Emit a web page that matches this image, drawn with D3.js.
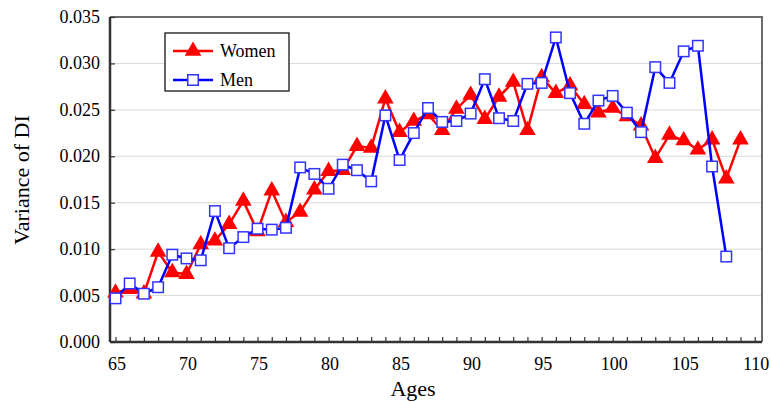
<!DOCTYPE html>
<html>
<head>
<meta charset="utf-8">
<script src="https://cdn.jsdelivr.net/npm/d3@7/dist/d3.min.js"></script>
<style>
  body { margin: 0; background: #fff; }
</style>
</head>
<body>
<div id="chart"></div>
<script>
// ages on the x axis
var agesWomen = d3.range(65, 110);  // 65..109
var agesMen = d3.range(65, 109);    // 65..108

// variance of DI
var women = [0.0053, 0.0057, 0.0052, 0.0097, 0.0075, 0.0073, 0.0105, 0.0109, 0.0127, 0.0152,
  0.0119, 0.0163, 0.0129, 0.0140, 0.0164, 0.0184, 0.0185, 0.0211, 0.0209, 0.0262,
  0.0226, 0.0238, 0.0245, 0.0228, 0.0251, 0.0266, 0.0240, 0.0264, 0.0280, 0.0228,
  0.0285, 0.0268, 0.0276, 0.0256, 0.0247, 0.0252, 0.0243, 0.0233, 0.0198, 0.0223,
  0.0217, 0.0207, 0.0218, 0.0176, 0.0218];
var men = [0.0047, 0.0063, 0.0052, 0.0059, 0.0094, 0.0090, 0.0088, 0.0141, 0.0101, 0.0113,
  0.0122, 0.0121, 0.0123, 0.0188, 0.0181, 0.0165, 0.0191, 0.0185, 0.0173, 0.0244,
  0.0196, 0.0225, 0.0252, 0.0237, 0.0238, 0.0246, 0.0283, 0.0241, 0.0238, 0.0278,
  0.0279, 0.0328, 0.0268, 0.0235, 0.0260, 0.0265, 0.0247, 0.0226, 0.0296, 0.0279,
  0.0313, 0.0319, 0.0189, 0.0092];

var xTicks = [65, 70, 75, 80, 85, 90, 95, 100, 105, 110];
var yTicks = [0, 0.005, 0.01, 0.015, 0.02, 0.025, 0.03, 0.035];

var serif = "'Liberation Serif', 'Times New Roman', serif";

// set up size of chart
var width = 771, height = 402;
var plot = {left: 110, right: 762, top: 17, bottom: 342};
var sq = 10.5; // square marker size

var svg = d3.select("#chart").append("svg")
    .attr("width", width)
    .attr("height", height)
    .attr("font-family", serif);

var xScale = d3.scaleLinear()
    .domain([65, 109])
    .range([115.5, 740.5]);

var yScale = d3.scaleLinear()
    .domain([0, 0.035])
    .range([plot.bottom, plot.top]);

// grid lines
svg.append("g")
  .selectAll("line")
  .data(yTicks.slice(1, -1))
  .enter().append("line")
    .attr("x1", plot.left).attr("x2", plot.right)
    .attr("y1", function(d) { return yScale(d); })
    .attr("y2", function(d) { return yScale(d); })
    .attr("stroke", "#d9d9d9")
    .attr("stroke-width", 1);

// frame on top and right
svg.append("path")
    .attr("d", "M" + plot.left + "," + plot.top + "H" + plot.right + "V" + plot.bottom)
    .attr("fill", "none")
    .attr("stroke", "#6b6b6b")
    .attr("stroke-width", 2);

// x axis: a tick for every year, pointing inside
var xAxis = svg.append("g")
    .attr("transform", "translate(0," + plot.bottom + ")")
    .call(d3.axisTop(xScale).tickValues(d3.range(65, 111)).tickSize(5).tickFormat(""));
xAxis.select(".domain").attr("d", "M" + plot.left + ",0H" + plot.right)
    .attr("stroke", "#333").attr("stroke-width", 2.5);
xAxis.selectAll(".tick line").attr("stroke", "#333").attr("stroke-width", 1.2);

svg.append("g")
  .selectAll("text")
  .data(xTicks)
  .enter().append("text")
    .attr("x", function(d) { return xScale(d) + 1.5; })
    .attr("y", 370)
    .attr("text-anchor", "middle")
    .attr("font-family", serif)
    .attr("font-size", 18)
    .text(function(d) { return d; });

// y axis
var yAxis = svg.append("g")
    .attr("transform", "translate(" + plot.left + ",0)")
    .call(d3.axisRight(yScale).tickValues(yTicks).tickSize(5).tickFormat(""));
yAxis.select(".domain").attr("d", "M0," + plot.top + "V" + plot.bottom)
    .attr("stroke", "#333").attr("stroke-width", 2.5);
yAxis.selectAll(".tick line").attr("stroke", "#333").attr("stroke-width", 1.2);

svg.append("g")
  .selectAll("text")
  .data(yTicks)
  .enter().append("text")
    .attr("x", 100)
    .attr("y", function(d) { return yScale(d) + 6; })
    .attr("text-anchor", "end")
    .attr("font-family", serif)
    .attr("font-size", 18)
    .text(function(d) { return d3.format(".3f")(d); });

// axis titles
svg.append("text")
    .attr("x", 413)
    .attr("y", 396)
    .attr("text-anchor", "middle")
    .attr("font-family", serif)
    .attr("font-size", 22)
    .text("Ages");

svg.append("text")
    .attr("transform", "translate(29,180) rotate(-90)")
    .attr("text-anchor", "middle")
    .attr("font-family", serif)
    .attr("font-size", 22)
    .text("Variance of DI");

// lines
var line = d3.line()
    .x(function(d) { return xScale(d.x); })
    .y(function(d) { return yScale(d.y); });

var womenData = women.map(function(d, i) { return {x: agesWomen[i], y: d}; });
var menData = men.map(function(d, i) { return {x: agesMen[i], y: d}; });

var triangle = d3.symbol().type(d3.symbolTriangle).size(120);

svg.append("path")
    .datum(womenData)
    .attr("d", line)
    .attr("fill", "none")
    .attr("stroke", "#ff0000")
    .attr("stroke-width", 2.5);

svg.append("g")
  .selectAll("path")
  .data(womenData)
  .enter().append("path")
    .attr("d", triangle)
    .attr("transform", function(d) { return "translate(" + xScale(d.x) + "," + yScale(d.y) + ")"; })
    .attr("fill", "#ff0000");

svg.append("path")
    .datum(menData)
    .attr("d", line)
    .attr("fill", "none")
    .attr("stroke", "#0000ff")
    .attr("stroke-width", 2.5);

svg.append("g")
  .selectAll("rect")
  .data(menData)
  .enter().append("rect")
    .attr("x", function(d) { return xScale(d.x) - sq / 2; })
    .attr("y", function(d) { return yScale(d.y) - sq / 2; })
    .attr("width", sq)
    .attr("height", sq)
    .attr("fill", "#fff")
    .attr("stroke", "#3333ff")
    .attr("stroke-width", 1.5);

// legend
var legend = svg.append("g");
legend.append("rect")
    .attr("x", 165).attr("y", 33)
    .attr("width", 124).attr("height", 58)
    .attr("fill", "#fff")
    .attr("stroke", "#000")
    .attr("stroke-width", 1.2);

legend.append("line")
    .attr("x1", 173).attr("x2", 213).attr("y1", 51).attr("y2", 51)
    .attr("stroke", "#ff0000").attr("stroke-width", 2.5);
legend.append("path")
    .attr("d", triangle)
    .attr("transform", "translate(193,51)")
    .attr("fill", "#ff0000");
legend.append("text")
    .attr("x", 220).attr("y", 57)
    .attr("font-family", serif)
    .attr("font-size", 18)
    .text("Women");

legend.append("line")
    .attr("x1", 173).attr("x2", 213).attr("y1", 80).attr("y2", 80)
    .attr("stroke", "#0000ff").attr("stroke-width", 2.5);
legend.append("rect")
    .attr("x", 193 - sq / 2).attr("y", 80 - sq / 2).attr("width", sq).attr("height", sq)
    .attr("fill", "#fff").attr("stroke", "#3333ff").attr("stroke-width", 1.5);
legend.append("text")
    .attr("x", 220).attr("y", 86)
    .attr("font-family", serif)
    .attr("font-size", 18)
    .text("Men");
</script>
</body>
</html>
